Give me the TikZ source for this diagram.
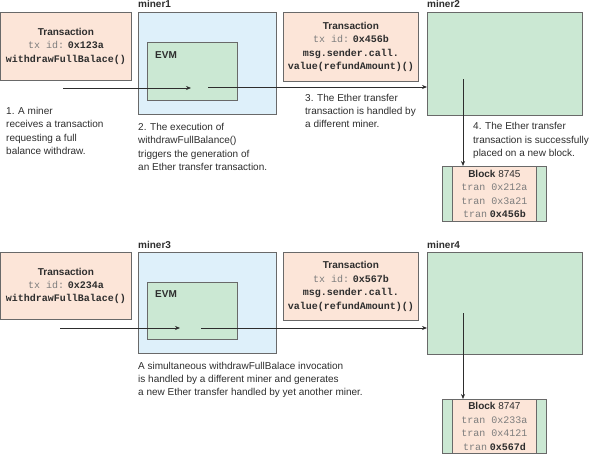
\documentclass[tikz,border=0pt]{standalone}
\usepackage{fontspec}
\setmainfont{Liberation Sans}
\setmonofont{Liberation Mono}
\usetikzlibrary{arrows.meta}
\definecolor{pinkf}{RGB}{252,229,216}
\definecolor{bluef}{RGB}{222,240,250}
\definecolor{greenf}{RGB}{203,232,211}
\definecolor{edgec}{RGB}{105,105,105}
\definecolor{txt}{RGB}{45,45,45}
\definecolor{lgray}{RGB}{125,125,125}
\newcommand{\gm}[1]{{\color{lgray}\ttfamily #1}}
\newcommand{\bm}[1]{{\ttfamily\bfseries #1}}
\begin{document}
\begin{tikzpicture}[x=1pt,y=-1pt, font=\fontsize{10}{13.4}\selectfont, text=txt,
  box/.style={draw=edgec, line width=0.8pt, anchor=north west, inner sep=0pt, align=center},
  pinkbox/.style={box, fill=pinkf},
  bluebox/.style={box, fill=bluef},
  greenbox/.style={box, fill=greenf},
  lbl/.style={font=\fontsize{10}{12}\selectfont\bfseries, anchor=base west, inner sep=0pt},
  note/.style={anchor=west, align=left, inner sep=0pt},
  arr/.style={draw=txt, line width=0.7pt, -{Stealth[length=5pt,width=4pt]}}]
\useasboundingbox (0,0) rectangle (590,455);

% ---------- top row ----------
\node[pinkbox, minimum width=130pt, minimum height=68pt] (tx1) at (0.5,12)
  {\textbf{Transaction}\\ \gm{tx id:} \bm{0x123a}\\ \bm{withdrawFullBalace()}};
\node[bluebox, minimum width=138pt, minimum height=102pt] (m1) at (138,12) {};
\node[lbl] (m1l) at (138,8) {miner1};
\node[greenbox, minimum width=90pt, minimum height=58pt] (evm1) at (147,42) {};
\node[lbl] (evm1l) at (155,58) {EVM};
\node[pinkbox, minimum width=135pt, minimum height=69pt] (tx2) at (283,12)
  {\textbf{Transaction}\\ \gm{tx id:} \bm{0x456b}\\ \bm{msg.sender.call.}\\ \bm{value(refundAmount)()}};
\node[greenbox, minimum width=155pt, minimum height=103pt] (m2) at (427,12) {};
\node[lbl] (m2l) at (427,8) {miner2};
\node[greenbox, minimum width=104pt, minimum height=55pt] (b1o) at (442,166) {};
\node[pinkbox, minimum width=84pt, minimum height=55pt] (b1) at (452,166)
  {\textbf{Block} 8745\\ \gm{tran 0x212a}\\ \gm{tran 0x3a21}\\ \gm{tran} \bm{0x456b}};

\coordinate (s1) at (63,88);
\coordinate (e1) at (191,88);
\coordinate (s2) at (208,87);
\coordinate (d1) at (463,79);
\draw[arr] (s1) -- (e1);
\draw[arr] (s2) -- (s2 -| m2.west);
\draw[arr] (d1) -- (d1 |- b1.north);

\node[note] (n1) at (6,131) {1. A miner\\ receives a transaction\\ requesting a full\\ balance withdraw.};
\node[note] (n2) at (138,147) {2. The execution of\\ withdrawFullBalance()\\ triggers the generation of\\ an Ether transfer transaction.};
\node[note] (n3) at (305,111) {3. The Ether transfer\\ transaction is handled by\\ a different miner.};
\node[note] (n4) at (473,140.5) {4. The Ether transfer\\ transaction is successfully\\ placed on a new block.};

% ---------- bottom row ----------
\node[pinkbox, minimum width=130pt, minimum height=67pt] (tx3) at (0.5,252)
  {\textbf{Transaction}\\ \gm{tx id:} \bm{0x234a}\\ \bm{withdrawFullBalace()}};
\node[bluebox, minimum width=138pt, minimum height=101pt] (m3) at (138,252) {};
\node[lbl] (m3l) at (138,248) {miner3};
\node[greenbox, minimum width=90pt, minimum height=57pt] (evm3) at (147,282) {};
\node[lbl] (evm3l) at (155,297) {EVM};
\node[pinkbox, minimum width=135pt, minimum height=68pt] (tx4) at (283,252)
  {\textbf{Transaction}\\ \gm{tx id:} \bm{0x567b}\\ \bm{msg.sender.call.}\\ \bm{value(refundAmount)()}};
\node[greenbox, minimum width=155pt, minimum height=102pt] (m4) at (427,252) {};
\node[lbl] (m4l) at (427,248) {miner4};
\node[greenbox, minimum width=104pt, minimum height=54pt] (b2o) at (442,399) {};
\node[pinkbox, minimum width=84pt, minimum height=54pt] (b2) at (452,399)
  {\textbf{Block} 8747\\ \gm{tran 0x233a}\\ \gm{tran 0x4121}\\ \gm{tran} \bm{0x567d}};

\coordinate (s3) at (60,328);
\coordinate (e3) at (180,328);
\coordinate (s4) at (201,328);
\coordinate (d2) at (463,313);
\draw[arr] (s3) -- (e3);
\draw[arr] (s4) -- (s4 -| m4.west);
\draw[arr] (d2) -- (d2 |- b2.north);

\node[note] (n5) at (138,380) {A simultaneous withdrawFullBalace invocation\\ is handled by a different miner and generates\\ a new Ether transfer handled by yet another miner.};
\end{tikzpicture}
\end{document}
